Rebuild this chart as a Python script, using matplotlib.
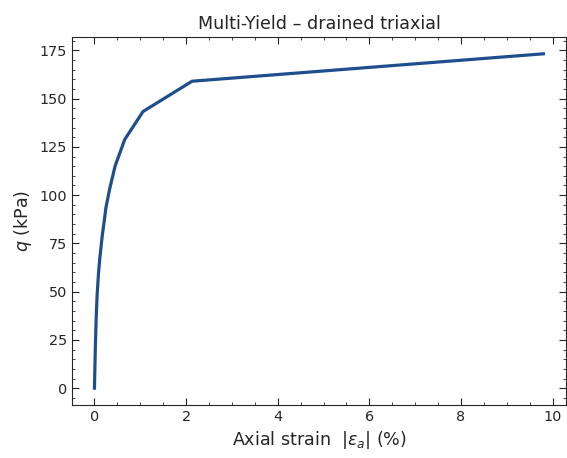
import matplotlib
matplotlib.use('Agg')
import matplotlib.pyplot as plt
from matplotlib.ticker import MultipleLocator

# Data (axial strain in %, deviator stress q in kPa)
strain = [0.0, 0.02, 0.04, 0.06, 0.09, 0.12, 0.17, 0.21, 0.25, 0.33, 0.45, 0.66, 1.06, 2.13, 9.80]
q = [0.0, 22.0, 38.0, 49.0, 60.0, 68.0, 79.0, 86.0, 93.5, 103.0, 115.0, 128.8, 143.3, 159.0, 173.2]

text_color = '#262626'
plt.rcParams['text.color'] = text_color
plt.rcParams['axes.labelcolor'] = text_color
plt.rcParams['xtick.color'] = text_color
plt.rcParams['ytick.color'] = text_color
plt.rcParams['axes.edgecolor'] = text_color

fig, ax = plt.subplots(figsize=(5.67, 4.58), dpi=100)
fig.subplots_adjust(left=0.127, right=0.998, top=0.919, bottom=0.116)

ax.plot(strain, q, color='#1f4e8c', linewidth=2.3)

ax.set_title('Multi-Yield – drained triaxial', fontsize=12.6)
ax.set_xlabel(r'Axial strain  $|\varepsilon_a|$ (%)', fontsize=12.6)
ax.set_ylabel(r'$q$ (kPa)', fontsize=12.6)

ax.xaxis.set_major_locator(MultipleLocator(2))
ax.xaxis.set_minor_locator(MultipleLocator(0.5))
ax.yaxis.set_major_locator(MultipleLocator(25))
ax.yaxis.set_minor_locator(MultipleLocator(5))
ax.tick_params(which='both', direction='in', top=True, right=True, labelsize=10.4)
ax.tick_params(which='major', length=5)
ax.tick_params(which='minor', length=2.5)

plt.savefig('out.png')
